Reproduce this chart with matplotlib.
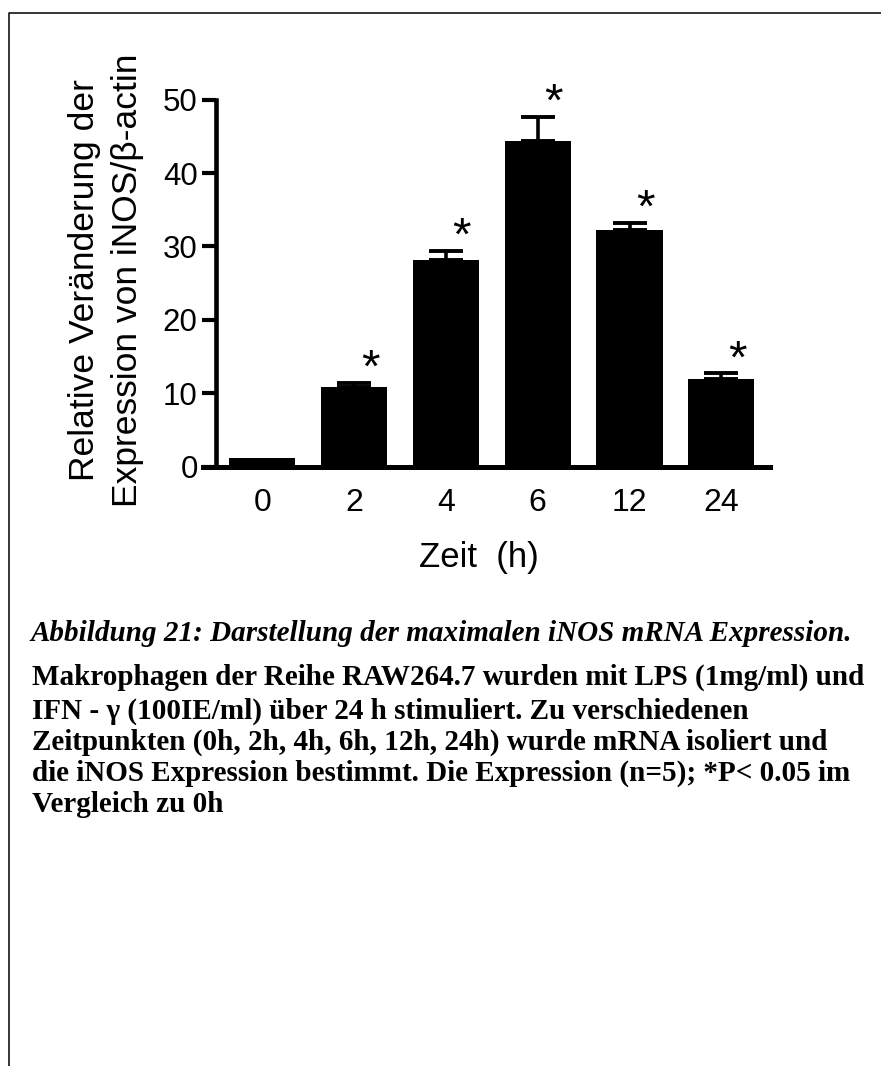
import matplotlib

matplotlib.use("Agg")
import matplotlib.pyplot as plt
import numpy as np
from matplotlib.lines import Line2D

# iNOS/beta-actin expression over time (mean, upper SEM)
time_labels = ["0", "2", "4", "6", "12", "24"]
expression = [1.2, 10.8, 28.1, 44.4, 32.3, 11.9]
sem = [0.0, 0.6, 1.3, 3.3, 0.9, 0.8]
significant = [False, True, True, True, True, True]

caption_title = "Abbildung 21: Darstellung der maximalen iNOS mRNA Expression."
caption_lines = [
    "Makrophagen der Reihe RAW264.7 wurden mit LPS (1mg/ml) und",
    "IFN - \u03b3 (100IE/ml) \u00fcber 24 h stimuliert. Zu verschiedenen",
    "Zeitpunkten (0h, 2h, 4h, 6h, 12h, 24h) wurde mRNA isoliert und",
    "die iNOS Expression bestimmt. Die Expression (n=5); *P< 0.05 im",
    "Vergleich zu 0h",
]

W, H = 881, 1066
plt.rcParams["font.family"] = ["Liberation Sans", "DejaVu Sans"]

fig = plt.figure(figsize=(W / 100, H / 100), dpi=100, facecolor="white")

# page frame (only top and left edge are visible)
fig.add_artist(Line2D([9 / W, 9 / W, 1.0], [0.0, 1 - 12.7 / H, 1 - 12.7 / H],
                      transform=fig.transFigure, color="black", lw=1.1))

ax = fig.add_axes([202.7 / W, 1 - 466.7 / H, 567.3 / W, 367 / H])
x = np.arange(len(time_labels))

ax.bar(x, expression, width=0.72, color="black", zorder=2)

has_err = [i for i, s in enumerate(sem) if s > 0]
ax.errorbar(x[has_err], [expression[i] for i in has_err],
            yerr=[np.zeros(len(has_err)), [sem[i] for i in has_err]],
            fmt="none", ecolor="black", elinewidth=2.6, capsize=12, capthick=2.8,
            zorder=3)

for i, star in enumerate(significant):
    if star:
        ax.annotate("*", xy=(x[i], expression[i] + sem[i]), xytext=(16, 1),
                    textcoords="offset pixels", ha="center", va="baseline",
                    fontsize=34, annotation_clip=False)

ax.set_xlim(-0.648, 5.53)
ax.set_ylim(0, 50)
ax.set_yticks([0, 10, 20, 30, 40, 50])
ax.set_xticks(x, time_labels)

for side in ("top", "right"):
    ax.spines[side].set_visible(False)
ax.spines["left"].set_position(("data", -0.506))
ax.spines["left"].set_linewidth(3.3)
ax.spines["bottom"].set_linewidth(3.6)

ax.tick_params(axis="y", length=10, width=3, pad=3, labelsize=22.5)
ax.tick_params(axis="x", length=0, pad=15, labelsize=23)

ax.set_ylabel("Relative Ver\u00e4nderung der\nExpression von iNOS/\u03b2-actin",
              fontsize=25.5, linespacing=1.38)
ax.yaxis.set_label_coords(-0.103, 0.508)

ax.set_xlabel("Zeit  (h)", fontsize=25)
ax.xaxis.set_label_coords(0.487, -0.274)
ax.xaxis.label.set_va("baseline")

# caption below the chart
serif = ["Liberation Serif", "DejaVu Serif"]
fig.text(31 / W, 1 - 641 / H, caption_title, family=serif, weight="bold",
         style="italic", fontsize=21, va="baseline")
baselines = [685, 719, 750, 781, 812]
for line, yb in zip(caption_lines, baselines):
    fig.text(32 / W, 1 - yb / H, line, family=serif, weight="bold",
             fontsize=21, va="baseline")

fig.savefig("out.png", dpi=100, facecolor="white")
